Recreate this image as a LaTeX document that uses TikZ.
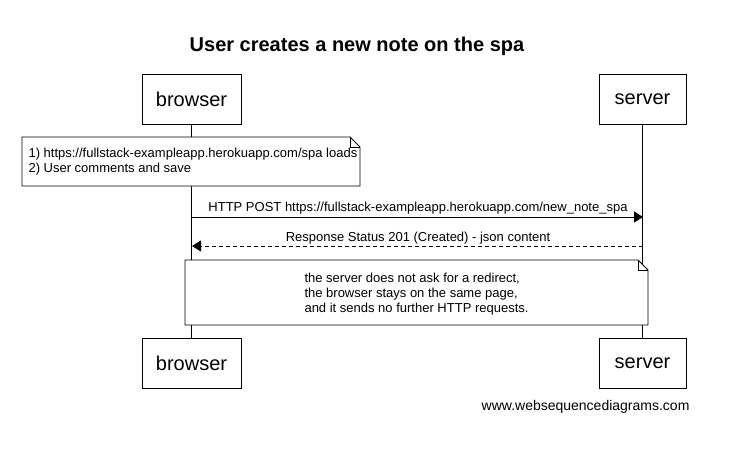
\documentclass[tikz,border=0pt]{standalone}
\usepackage{fontspec}
\setmainfont{Liberation Sans}
\usetikzlibrary{arrows.meta}
\begin{document}
\begin{tikzpicture}[x=1pt,y=-1pt,
  actor/.style={draw,line width=0.8pt,minimum width=99pt,minimum height=50pt,font=\fontsize{20}{24}\selectfont,inner sep=0pt},
  msg/.style={font=\fontsize{13}{15}\selectfont},
  life/.style={line width=0.8pt},
  notebox/.style={draw,line width=0.8pt,fill=white},
  tip/.style={-{Triangle[length=9pt,width=11pt]}}]
\path[fill=white] (0,0) rectangle (750,453);
\useasboundingbox (0,0) rectangle (750,453);
\node[font=\bfseries\fontsize{20}{24}\selectfont] (title) at (357,46) {User creates a new note on the spa};
\node[actor] (bt) at (191.5,99) {browser};
\node[actor,minimum width=87pt] (st) at (642.5,99) {server};
\node[actor] (bb) at (191.5,363) {browser};
\node[actor,minimum width=87pt] (sb) at (642.5,363) {server};
\draw[life] (bt.south) -- (bb.north);
\draw[life] (st.south) -- (sb.north);
% note 1
\draw[notebox] (22,137) -- (350,137) -- (360,147) -- (360,186) -- (22,186) -- cycle;
\draw[line width=0.6pt] (350,137) -- (350,147) -- (360,147);
\node[msg,align=left,anchor=west] (n1) at (25,162) {1) https://fullstack-exampleapp.herokuapp.com/spa loads\\2) User comments and save};
% messages
\coordinate (a1) at (192,217);
\coordinate (b1) at (643,217);
\coordinate (a2) at (643,246);
\coordinate (b2) at (192,246);
\draw[life,tip] (a1) -- (b1);
\node[msg] (m1) at (418,208) {HTTP POST https://fullstack-exampleapp.herokuapp.com/new\_note\_spa};
\draw[life,dashed,dash pattern=on 4pt off 3pt,tip] (a2) -- (b2);
\node[msg] (m2) at (418,238) {Response Status 201 (Created) - json content};
% note 2
\draw[notebox] (185,260) -- (638,260) -- (648,270) -- (648,325) -- (185,325) -- cycle;
\draw[line width=0.6pt] (638,260) -- (638,270) -- (648,270);
\node[msg,align=left,anchor=west] (n2) at (301,294) {the server does not ask for a redirect,\\the browser stays on the same page,\\and it sends no further HTTP requests.};
\node[font=\fontsize{14}{17}\selectfont,anchor=east] (wm) at (693,407) {www.websequencediagrams.com};
\end{tikzpicture}
\end{document}
